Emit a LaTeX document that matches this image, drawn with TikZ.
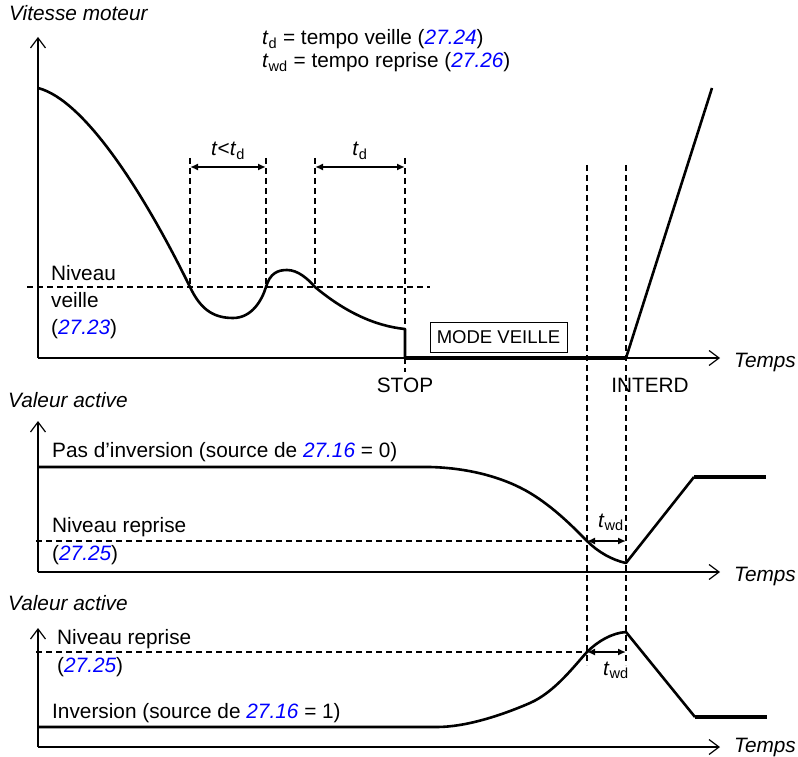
\documentclass[tikz,border=0pt]{standalone}
\usepackage{fontspec}
\setmainfont{Liberation Sans}
\usetikzlibrary{arrows.meta,positioning}
\tikzset{%
  axis/.style={line width=2pt,-{Straight Barb[length=10pt,width=15pt,line width=1.2pt]}},
  signal/.style={line width=2.6pt,line join=round},
  heavy/.style={line width=4pt},
  level/.style={line width=1.6pt,dash pattern=on 6pt off 4pt},
  dimarrow/.style={line width=1.6pt,{Latex[length=8pt,width=7pt]}-{Latex[length=8pt,width=7pt]}},
  lbl/.style={anchor=base west,inner sep=0pt},
  clbl/.style={anchor=base,inner sep=0pt}
}
\newcommand{\pnum}[1]{\textcolor{pblue}{\textit{#1}}}
\newcommand{\tsl}{\textit{t}\textsubscript{d}}
\newcommand{\twk}{\textit{t}\textsubscript{wd}}
\newcommand{\bigfont}{\fontsize{20.8}{25}\selectfont}

\begin{document}
\begin{tikzpicture}[x=1pt,y=-1pt,font=\bigfont]
% ---- colors ----
\definecolor{pblue}{RGB}{0,0,255}   % parameter numbers

\useasboundingbox (0,0) rectangle (798,757);

% geometry
\def\ax{38}    % y axes
\def\xe{720}   % x axis ends
\def\wa{587}   % wake level reached
\def\wb{626}   % INTERD

% ===================== definitions =====================
\node[lbl] (deftd)  at (262,45) {\tsl{} = tempo veille (\pnum{27.24})};
\node[lbl] (deftwd) at (262,68) {\twk{} = tempo reprise (\pnum{27.26})};

% ===================== panel 1 : vitesse moteur =====================
\node[lbl,font=\bigfont\itshape] (vit) at (9,21) {Vitesse moteur};
\coordinate (o1) at (\ax,358);
\coordinate (y1) at (\ax,37);
\coordinate (x1) at (\xe,358);
\draw[axis] (o1) -- (y1);
\draw[axis] (o1) -- (x1);
\node[lbl,font=\bigfont\itshape] (temps1) at (734,367) {Temps};

% sleep level
\coordinate (nv1) at (27,287);
\coordinate (nv2) at (430,287);
\draw[level] (nv1) -- (nv2);
\node[lbl] (niv1) at (51,280) {Niveau};
\node[lbl] (niv2) at (51,307) {veille};
\node[lbl] (niv3) at (51,334) {(\pnum{27.23})};

% delay markers
\foreach \x/\yb in {190/287,266/287,315/287,405/372}
  \draw[level] (\x,158) -- (\x,\yb);
\coordinate (d1a) at (190,167);
\coordinate (d1b) at (266,167);
\coordinate (d2a) at (315,167);
\coordinate (d2b) at (405,167);
\draw[dimarrow] (d1a) -- (d1b);
\draw[dimarrow] (d2a) -- (d2b);
\node[clbl] (tlt) at (228,156) {\textit{t}<\tsl};
\node[clbl] (tdl) at (360,156) {\tsl};

% speed curve
\coordinate (stp) at (405,358);
\coordinate (itd) at (\wb,358);
\draw[signal] (38,88) .. controls (85,100) and (145,195) .. (190,287)
  .. controls (200,308) and (212,318) .. (233,318)
  .. controls (252,318) and (262,300) .. (266,287)
  .. controls (270,273) and (278,270) .. (287,270)
  .. controls (298,270) and (308,279) .. (315,287)
  .. controls (345,312) and (375,326) .. (405,329) -- (stp);
\draw[heavy] (stp) -- (itd);
\draw[signal] (itd) -- (712,88);

\node[draw,line width=1pt,minimum width=137pt,minimum height=30pt,inner sep=0pt,
  font=\fontsize{18.5}{20}\selectfont] (mode) at (498.5,337) {MODE VEILLE};
\node[clbl] (stop) at (405,392) {STOP};
\node[clbl] (interd) at (650,392) {INTERD};

% wake markers
\draw[level] (\wa,165) -- (\wa,665);
\draw[level] (\wb,165) -- (\wb,665);

% ===================== panel 2 : pas d'inversion =====================
\node[lbl,font=\bigfont\itshape] (val2) at (8,407) {Valeur active};
\coordinate (o2) at (\ax,572);
\coordinate (y2) at (\ax,421);
\coordinate (x2) at (\xe,572);
\draw[axis] (o2) -- (y2);
\draw[axis] (o2) -- (x2);
\node[lbl,font=\bigfont\itshape] (temps2) at (734,581) {Temps};

\node[lbl] (pasinv) at (52,457) {Pas d’inversion (source de \pnum{27.16} = 0)};
\node[lbl] (nrep2a) at (52,532) {Niveau reprise};
\node[lbl] (nrep2b) at (52,560) {(\pnum{27.25})};
\coordinate (lv2a) at (36,541);
\coordinate (lv2b) at (\wa,541);
\draw[level] (lv2a) -- (lv2b);

\draw[signal] (38,467) -- (430,467) .. controls (470,468) and (505,478) .. (530,493)
  .. controls (555,508) and (575,529) .. (587,541)
  .. controls (598,552) and (612,560) .. (626,563) -- (694,477);
\draw[heavy] (694,477) -- (766,477);

\coordinate (w2a) at (\wa,541);
\coordinate (w2b) at (\wb,541);
\draw[dimarrow] (w2a) -- (w2b);
\node[clbl] (twd2) at (611,527) {\twk};

% ===================== panel 3 : inversion =====================
\node[lbl,font=\bigfont\itshape] (val3) at (8,610) {Valeur active};
\coordinate (o3) at (\ax,747);
\coordinate (y3) at (\ax,628);
\coordinate (x3) at (\xe,747);
\draw[axis] (o3) -- (y3);
\draw[axis] (o3) -- (x3);
\node[lbl,font=\bigfont\itshape] (temps3) at (734,752) {Temps};

\node[lbl] (nrep3a) at (57,644) {Niveau reprise};
\node[lbl] (nrep3b) at (57,672) {(\pnum{27.25})};
\node[lbl] (inv) at (52,718) {Inversion (source de \pnum{27.16} = 1)};
\coordinate (lv3a) at (36,652);
\coordinate (lv3b) at (\wa,652);
\draw[level] (lv3a) -- (lv3b);

\draw[signal] (38,727) -- (437,727) .. controls (465,727) and (500,716) .. (530,703)
  .. controls (555,692) and (575,665) .. (587,652)
  .. controls (598,641) and (612,633) .. (626,632) -- (695,717);
\draw[heavy] (695,717) -- (767,717);

\coordinate (w3a) at (\wa,652);
\coordinate (w3b) at (\wb,652);
\draw[dimarrow] (w3a) -- (w3b);
\node[clbl] (twd3) at (616,675) {\twk};

\end{tikzpicture}
\end{document}
